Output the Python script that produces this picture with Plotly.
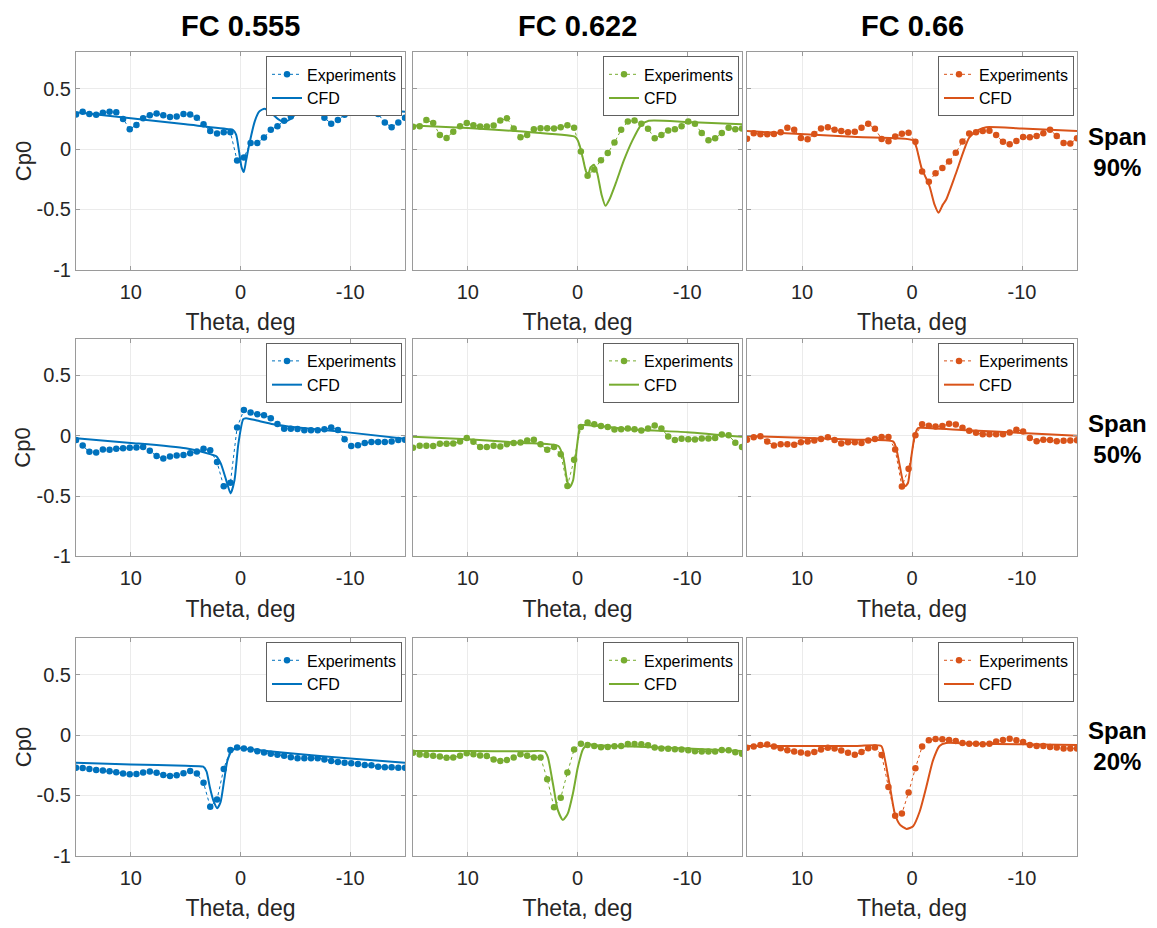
import plotly.graph_objects as go

# ---------------- data ----------------
THETA = [15.0, 14.39, 13.78, 13.16, 12.55, 11.94, 11.33, 10.71, 10.1, 9.49,
         8.88, 8.27, 7.65, 7.04, 6.43, 5.82, 5.2, 4.59, 3.98, 3.37,
         2.76, 2.14, 1.53, 0.92, 0.31, -0.31, -0.92, -1.53, -2.14, -2.76,
         -3.37, -3.98, -4.59, -5.2, -5.82, -6.43, -7.04, -7.65, -8.27, -8.88,
         -9.49, -10.1, -10.71, -11.33, -11.94, -12.55, -13.16, -13.78, -14.39, -15.0]

FC_LABELS = ["FC 0.555", "FC 0.622", "FC 0.66"]
SPAN_LABELS = ["90%", "50%", "20%"]
COLORS = ["#0072BD", "#77AC30", "#D95319"]

X_TICKS = [10, 0, -10]
X_TICKTEXT = ["10", "0", "-10"]
Y_TICKS = [-1, -0.5, 0, 0.5]
Y_TICKTEXT = ["-1", "-0.5", "0", "0.5"]

# Experiments (span 90%)
EXP_90_555 = [0.287, 0.31, 0.29, 0.285, 0.30, 0.31, 0.305, 0.25, 0.165, 0.20,
              0.255, 0.28, 0.295, 0.28, 0.265, 0.27, 0.29, 0.287, 0.26, 0.205,
              0.15, 0.13, 0.14, 0.14, -0.095, -0.07, 0.05, 0.05, 0.095, 0.16,
              0.19, 0.235, 0.27, 0.31, 0.34, 0.365, 0.335, 0.26, 0.21, 0.24,
              0.285, 0.30, 0.30, 0.315, 0.325, 0.29, 0.22, 0.18, 0.22, 0.26]
EXP_90_622 = [0.184, 0.19, 0.24, 0.217, 0.117, 0.092, 0.144, 0.19, 0.217, 0.198,
              0.187, 0.187, 0.195, 0.236, 0.255, 0.17, 0.098, 0.117, 0.165, 0.173,
              0.173, 0.17, 0.18, 0.198, 0.176, -0.02, -0.22, -0.168, -0.092, -0.033,
              0.054, 0.16, 0.228, 0.236, 0.209, 0.168, 0.089, 0.117, 0.154, 0.165,
              0.19, 0.228, 0.209, 0.133, 0.073, 0.089, 0.133, 0.176, 0.165, 0.17]
EXP_90_66 = [0.086, 0.132, 0.122, 0.122, 0.124, 0.14, 0.176, 0.16, 0.092, 0.081,
             0.124, 0.17, 0.181, 0.16, 0.149, 0.14, 0.143, 0.176, 0.21, 0.168,
             0.084, 0.065, 0.105, 0.127, 0.135, 0.06, -0.186, -0.27, -0.2, -0.157,
             -0.103, -0.03, 0.062, 0.13, 0.14, 0.149, 0.151, 0.116, 0.06, 0.04,
             0.068, 0.1, 0.097, 0.108, 0.132, 0.16, 0.108, 0.051, 0.046, 0.089]
# Experiments (span 50%)
EXP_50_555 = [-0.036, -0.082, -0.134, -0.14, -0.115, -0.117, -0.109, -0.104, -0.101, -0.098,
              -0.093, -0.126, -0.169, -0.19, -0.172, -0.164, -0.161, -0.145, -0.131, -0.109,
              -0.12, -0.219, -0.42, -0.39, 0.068, 0.213, 0.191, 0.178, 0.169, 0.145,
              0.096, 0.057, 0.057, 0.055, 0.044, 0.044, 0.044, 0.052, 0.068, 0.046,
              -0.03, -0.085, -0.079, -0.06, -0.052, -0.052, -0.052, -0.049, -0.036, -0.033]
EXP_50_622 = [-0.1, -0.083, -0.083, -0.086, -0.067, -0.067, -0.064, -0.048, -0.02, -0.05,
              -0.094, -0.094, -0.083, -0.089, -0.072, -0.061, -0.056, -0.04, -0.034, -0.072,
              -0.116, -0.094, -0.154, -0.416, -0.2, 0.072, 0.108, 0.094, 0.08, 0.072,
              0.05, 0.053, 0.059, 0.053, 0.042, 0.059, 0.083, 0.059, -0.007, -0.037,
              -0.026, -0.029, -0.031, -0.023, -0.023, -0.02, 0.01, 0.004, -0.059, -0.094]
EXP_50_66 = [-0.033, -0.014, -0.005, -0.049, -0.082, -0.071, -0.071, -0.076, -0.054, -0.049,
             -0.041, -0.027, -0.014, -0.035, -0.065, -0.054, -0.054, -0.06, -0.041, -0.027,
             -0.011, -0.011, -0.114, -0.421, -0.274, 0.003, 0.095, 0.082, 0.076, 0.079,
             0.098, 0.092, 0.065, 0.041, 0.024, 0.011, 0.011, 0.011, 0.011, 0.027,
             0.049, 0.035, -0.019, -0.046, -0.033, -0.035, -0.046, -0.043, -0.041, -0.038]
# Experiments (span 20%)
EXP_20_555 = [-0.27, -0.272, -0.28, -0.289, -0.294, -0.3, -0.308, -0.319, -0.324, -0.322,
              -0.31, -0.302, -0.313, -0.33, -0.338, -0.332, -0.316, -0.297, -0.319, -0.395,
              -0.594, -0.534, -0.28, -0.123, -0.104, -0.112, -0.12, -0.134, -0.144, -0.155,
              -0.163, -0.172, -0.183, -0.191, -0.191, -0.191, -0.191, -0.202, -0.215, -0.223,
              -0.229, -0.234, -0.24, -0.248, -0.251, -0.262, -0.267, -0.267, -0.27, -0.27]
EXP_20_622 = [-0.147, -0.161, -0.166, -0.172, -0.177, -0.188, -0.185, -0.172, -0.15, -0.158,
              -0.169, -0.174, -0.202, -0.215, -0.207, -0.185, -0.158, -0.172, -0.185, -0.185,
              -0.365, -0.597, -0.52, -0.311, -0.12, -0.071, -0.082, -0.09, -0.1, -0.098,
              -0.093, -0.09, -0.074, -0.074, -0.076, -0.084, -0.104, -0.112, -0.114, -0.117,
              -0.12, -0.125, -0.134, -0.136, -0.136, -0.136, -0.123, -0.125, -0.142, -0.155]
EXP_20_66 = [-0.106, -0.095, -0.082, -0.079, -0.095, -0.109, -0.125, -0.136, -0.144, -0.152,
             -0.141, -0.12, -0.106, -0.111, -0.128, -0.147, -0.163, -0.141, -0.109, -0.103,
             -0.166, -0.43, -0.668, -0.65, -0.476, -0.274, -0.095, -0.043, -0.033, -0.035,
             -0.041, -0.049, -0.065, -0.071, -0.071, -0.076, -0.071, -0.054, -0.041, -0.03,
             -0.043, -0.057, -0.082, -0.09, -0.09, -0.098, -0.103, -0.111, -0.111, -0.111]

# CFD curves (theta, Cp0)
CFD_90_555_T = [15, 10, 5, 1.0, 0.7, 0.4, 0.1, -0.1, -0.3, -0.5, -0.8, -1.3, -1.7, -2.2,
                -2.8, -3.4, -3.9, -4.5, -5.5, -6.5, -10, -15]
CFD_90_555_V = [0.305, 0.255, 0.205, 0.165, 0.16, 0.12, -0.04, -0.15, -0.19, -0.10, 0.04, 0.23, 0.31, 0.335,
                0.30, 0.25, 0.225, 0.245, 0.33, 0.38, 0.347, 0.31]
CFD_90_622_T = [15, 10, 5, 0.3, 0.1, -0.2, -0.5, -0.8, -1.0, -1.2, -1.5, -1.8, -2.2, -2.55,
                -2.9, -3.5, -4.2, -5.0, -5.8, -6.5, -10, -15]
CFD_90_622_V = [0.195, 0.175, 0.145, 0.105, 0.09, 0.03, -0.08, -0.19, -0.20, -0.15, -0.13, -0.2, -0.38, -0.47,
                -0.42, -0.28, -0.1, 0.07, 0.2, 0.235, 0.225, 0.205]
CFD_90_66_T = [15, 5, -0.1, -0.4, -0.85, -1.6, -2.05, -2.42, -2.8, -3.1, -4.0, -5.2, -6.1, -6.75, -10, -15]
CFD_90_66_V = [0.149, 0.10, 0.073, 0.015, -0.15, -0.31, -0.46, -0.527, -0.46, -0.42, -0.2, 0.095, 0.162, 0.181, 0.17, 0.149]

CFD_50_555_T = [15, 10, 5, 2.7, 2.2, 1.8, 1.3, 0.9, 0.55, 0.2, -0.25, -0.5, -1.5, -3, -5, -10, -15]
CFD_50_555_V = [-0.022, -0.06, -0.105, -0.155, -0.17, -0.23, -0.37, -0.478, -0.37, -0.07, 0.137, 0.145, 0.125,
                0.095, 0.07, 0.025, -0.025]
CFD_50_622_T = [15, 10, 5, 1.75, 1.3, 0.95, 0.7, 0.4, 0.1, -0.2, -0.4, -5, -10, -15]
CFD_50_622_V = [-0.01, -0.03, -0.06, -0.086, -0.18, -0.37, -0.427, -0.37, -0.13, 0.064, 0.086, 0.05, 0.029, -0.01]
CFD_50_66_T = [15, 10, 5, 1.7, 1.4, 1.1, 0.8, 0.6, 0.36, 0.06, -0.25, -0.55, -0.85, -5, -10, -15]
CFD_50_66_V = [-0.003, -0.018, -0.033, -0.049, -0.12, -0.255, -0.39, -0.418, -0.39, -0.174, 0.0, 0.063, 0.065,
               0.045, 0.022, 0.0]

CFD_20_555_T = [15, 10, 5, 3.4, 3.1, 2.8, 2.48, 2.12, 1.82, 1.5, 1.2, 0.82, 0.3, 0, -5, -10, -15]
CFD_20_555_V = [-0.229, -0.243, -0.255, -0.262, -0.30, -0.43, -0.54, -0.605, -0.556, -0.38, -0.215, -0.134,
                -0.106, -0.109, -0.155, -0.195, -0.229]
CFD_20_622_T = [15, 10, 5, 3.0, 2.7, 2.24, 1.8, 1.33, 0.88, 0.42, -0.03, -0.5, -0.94, -1.4, -5, -10, -15]
CFD_20_622_V = [-0.131, -0.133, -0.135, -0.136, -0.185, -0.403, -0.62, -0.703, -0.649, -0.485, -0.267, -0.117,
                -0.076, -0.082, -0.095, -0.112, -0.131]
CFD_20_66_T = [15, 10, 5, 2.8, 2.5, 2.0, 1.57, 1.1, 0.5, -0.1, -0.7, -1.3, -1.9, -2.5, -3.1, -5, -10, -15]
CFD_20_66_V = [-0.09, -0.09, -0.09, -0.09, -0.185, -0.43, -0.647, -0.742, -0.777, -0.755, -0.633, -0.43, -0.212,
               -0.09, -0.065, -0.07, -0.076, -0.082]

EXP = [[EXP_90_555, EXP_90_622, EXP_90_66],
       [EXP_50_555, EXP_50_622, EXP_50_66],
       [EXP_20_555, EXP_20_622, EXP_20_66]]
CFD = [[(CFD_90_555_T, CFD_90_555_V), (CFD_90_622_T, CFD_90_622_V), (CFD_90_66_T, CFD_90_66_V)],
       [(CFD_50_555_T, CFD_50_555_V), (CFD_50_622_T, CFD_50_622_V), (CFD_50_66_T, CFD_50_66_V)],
       [(CFD_20_555_T, CFD_20_555_V), (CFD_20_622_T, CFD_20_622_V), (CFD_20_66_T, CFD_20_66_V)]]

# ---------------- layout ----------------
W, H = 1157, 928
OFF = 8  # page body margin: figure origin sits 8px right/down in the window
COL_PX = [(76, 405), (413, 742), (747, 1077)]
ROW_PX = [(53, 273), (343, 563), (646, 866)]
FONT = "Liberation Sans, Arial, Helvetica, sans-serif"
TXT = "#262626"
AXC = "#9a9a9a"


def px(xs):
    return (xs - OFF) / W


def py(ys):
    return 1 - (ys - OFF) / H


fig = go.Figure()
layout = dict(width=W, height=H, autosize=False,
              margin=dict(l=0, r=0, t=0, b=0),
              paper_bgcolor="white", plot_bgcolor="white",
              font=dict(family=FONT, color=TXT), annotations=[])

for r in range(3):
    for c in range(3):
        k = r * 3 + c + 1
        sfx = "" if k == 1 else str(k)
        lg = "legend" + sfx
        col = COLORS[c]
        fig.add_trace(go.Scatter(
            x=THETA, y=EXP[r][c], name="Experiments", mode="lines+markers",
            line=dict(color=col, width=1, dash="dot"),
            marker=dict(color=col, size=6.5),
            xaxis="x" + sfx, yaxis="y" + sfx, legend=lg))
        t, v = CFD[r][c]
        fig.add_trace(go.Scatter(
            x=t, y=v, name="CFD", mode="lines",
            line=dict(color=col, width=2, shape="spline", smoothing=0.6),
            xaxis="x" + sfx, yaxis="y" + sfx, legend=lg))

        x0, x1 = COL_PX[c]
        y0, y1 = ROW_PX[r]
        layout["xaxis" + sfx] = dict(
            domain=[px(x0), px(x1)], anchor="y" + sfx, range=[15, -15],
            tickvals=X_TICKS, ticktext=X_TICKTEXT,
            showgrid=True, gridcolor="#ebebeb", gridwidth=1, zeroline=False,
            showline=True, linecolor=AXC, linewidth=1, mirror="ticks",
            ticks="inside", ticklen=4, tickcolor=AXC, ticklabelstandoff=4,
            tickfont=dict(size=20, color=TXT, family=FONT),
            title=dict(text="Theta, deg", font=dict(size=23, color=TXT, family=FONT), standoff=12))
        layout["yaxis" + sfx] = dict(
            domain=[py(y1), py(y0)], anchor="x" + sfx, range=[-1, 0.8],
            tickvals=Y_TICKS, ticktext=Y_TICKTEXT, showticklabels=(c == 0),
            showgrid=True, gridcolor="#ebebeb", gridwidth=1, zeroline=False,
            showline=True, linecolor=AXC, linewidth=1, mirror="ticks",
            ticks="inside", ticklen=4, tickcolor=AXC,
            tickfont=dict(size=20, color=TXT, family=FONT))
        layout[lg] = dict(
            x=px(x1 - 3), y=py(y0 + 4), xanchor="right", yanchor="top",
            xref="paper", yref="paper",
            bgcolor="white", bordercolor="#606060", borderwidth=1,
            font=dict(size=16, color="black", family=FONT),
            itemwidth=30, tracegroupgap=0, itemsizing="trace")

        if c == 0:
            layout["annotations"].append(dict(
                x=px(23), y=py((y0 + y1) / 2), xref="paper", yref="paper",
                text="Cp0", textangle=-90, showarrow=False,
                font=dict(size=22, color=TXT, family=FONT),
                xanchor="center", yanchor="middle"))

for c in range(3):
    x0, x1 = COL_PX[c]
    layout["annotations"].append(dict(
        x=px((x0 + x1) / 2), y=1.0, xref="paper", yref="paper",
        text="<b>" + FC_LABELS[c] + "</b>", showarrow=False,
        font=dict(size=29, color="black", family=FONT),
        xanchor="center", yanchor="top"))

SPAN_Y = [154, 444, 755]
for r in range(3):
    layout["annotations"].append(dict(
        x=px(1117), y=py(SPAN_Y[r]), xref="paper", yref="paper",
        text="<b>Span<br>" + SPAN_LABELS[r] + "</b>", showarrow=False,
        font=dict(size=24, color="black", family=FONT),
        xanchor="center", yanchor="middle", align="center"))

fig.update_layout(**layout)
fig.write_html("out.html")
